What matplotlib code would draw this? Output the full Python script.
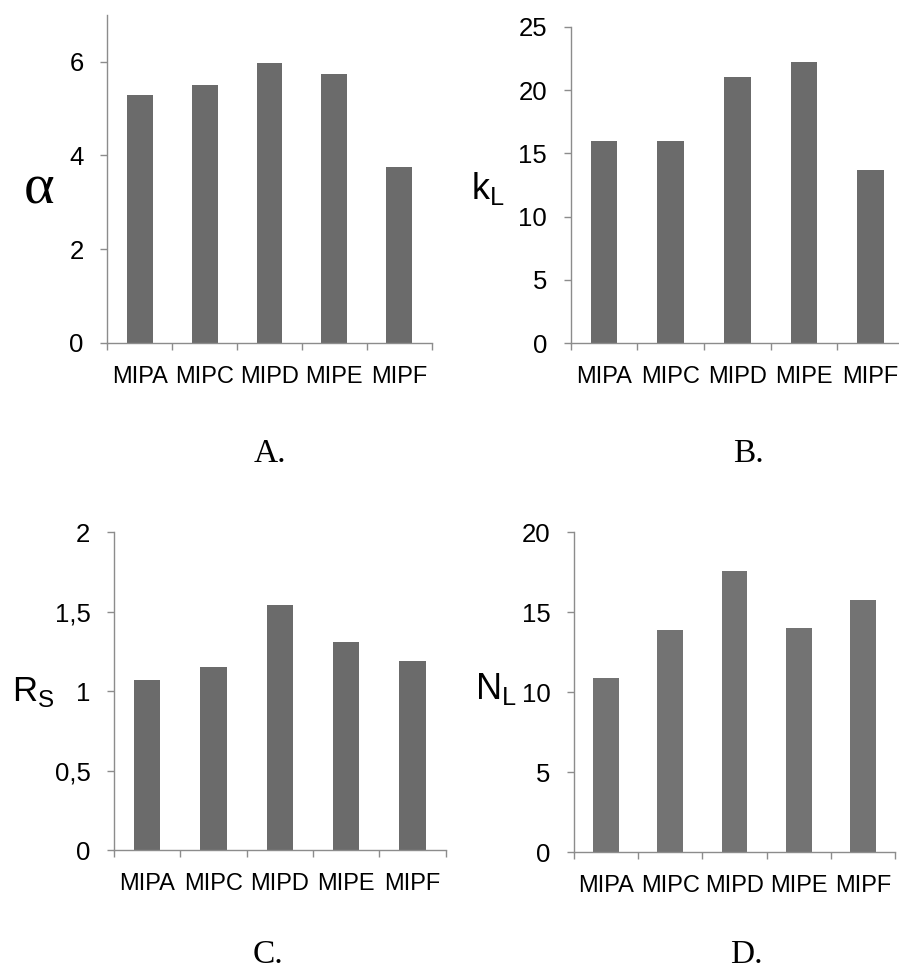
import matplotlib
matplotlib.use("Agg")
import matplotlib.pyplot as plt

plt.rcParams["font.family"] = ["Liberation Sans", "DejaVu Sans"]

categories = ["MIPA", "MIPC", "MIPD", "MIPE", "MIPF"]

alpha_vals = [5.29, 5.50, 5.97, 5.75, 3.76]
kl_vals = [16.0, 16.0, 21.0, 22.2, 13.7]
rs_vals = [1.07, 1.15, 1.54, 1.31, 1.19]
nl_vals = [10.9, 13.9, 17.6, 14.0, 15.8]

alpha_ticks = [0, 2, 4, 6]
alpha_ticklabels = ["0", "2", "4", "6"]
kl_ticks = [0, 5, 10, 15, 20, 25]
kl_ticklabels = ["0", "5", "10", "15", "20", "25"]
rs_ticks = [0, 0.5, 1, 1.5, 2]
rs_ticklabels = ["0", "0,5", "1", "1,5", "2"]
nl_ticks = [0, 5, 10, 15, 20]
nl_ticklabels = ["0", "5", "10", "15", "20"]

W, H = 899, 977
fig = plt.figure(figsize=(W / 100, H / 100), dpi=100)


def px_axes(x0, x1, ytop, ybot):
    return fig.add_axes([x0 / W, 1 - ybot / H, (x1 - x0) / W, (ybot - ytop) / H])


def bar_panel(ax, values, ticks, ticklabels, ymax, color):
    x = list(range(len(categories)))
    ax.bar(x, values, width=0.4, color=color, edgecolor="none", zorder=2)
    ax.set_xlim(-0.5, len(categories) - 0.5)
    ax.set_ylim(0, ymax)
    ax.set_yticks(ticks)
    ax.set_yticklabels(ticklabels)
    ax.set_xticks(x)
    ax.set_xticklabels(categories)
    ax.set_xticks([i - 0.5 for i in range(len(categories) + 1)], minor=True)
    for s in ("top", "right"):
        ax.spines[s].set_visible(False)
    for s in ("left", "bottom"):
        ax.spines[s].set_color("#8c8c8c")
        ax.spines[s].set_linewidth(1.0)
    ax.tick_params(axis="y", direction="out", length=5, width=1.0,
                   color="#8c8c8c", pad=12, labelsize=18.5)
    ax.tick_params(axis="x", which="major", length=0, pad=16.5, labelsize=17)
    ax.tick_params(axis="x", which="minor", direction="out", length=5,
                   width=1.0, color="#8c8c8c")
    ax.spines["left"].set_bounds(0, ymax)


axA = px_axes(107.3, 431.7, 15.0, 342.7)
bar_panel(axA, alpha_vals, alpha_ticks, alpha_ticklabels, 7, "#6b6b6b")

axB = px_axes(570.7, 904.0, 26.7, 343.3)
bar_panel(axB, kl_vals, kl_ticks, kl_ticklabels, 25, "#6b6b6b")

axC = px_axes(114.0, 445.7, 532.3, 850.3)
bar_panel(axC, rs_vals, rs_ticks, rs_ticklabels, 2, "#6b6b6b")

axD = px_axes(574.0, 895.0, 532.3, 852.3)
bar_panel(axD, nl_vals, nl_ticks, nl_ticklabels, 20, "#737373")

# axis quantity labels
fig.text(39 / W, 1 - 190 / H, "α", family=["Liberation Serif", "DejaVu Serif"],
         fontsize=42, ha="center", va="center")
fig.text(471 / W, 1 - 199 / H, r"k$_\mathregular{L}$", fontsize=26,
         ha="left", va="baseline")
fig.text(12 / W, 1 - 701 / H, r"R$_\mathregular{S}$", fontsize=25,
         ha="left", va="baseline")
fig.text(475 / W, 1 - 699 / H, r"N$_\mathregular{L}$", fontsize=26,
         ha="left", va="baseline")

# panel captions
serif = ["Liberation Serif", "DejaVu Serif"]
fig.text(270 / W, 1 - 462 / H, "A.", family=serif, fontsize=24, ha="center", va="baseline")
fig.text(748 / W, 1 - 462 / H, "B.", family=serif, fontsize=24, ha="center", va="baseline")
fig.text(268 / W, 1 - 963 / H, "C.", family=serif, fontsize=24, ha="center", va="baseline")
fig.text(746 / W, 1 - 963 / H, "D.", family=serif, fontsize=24, ha="center", va="baseline")

fig.savefig("out.png", dpi=100, facecolor="white")
